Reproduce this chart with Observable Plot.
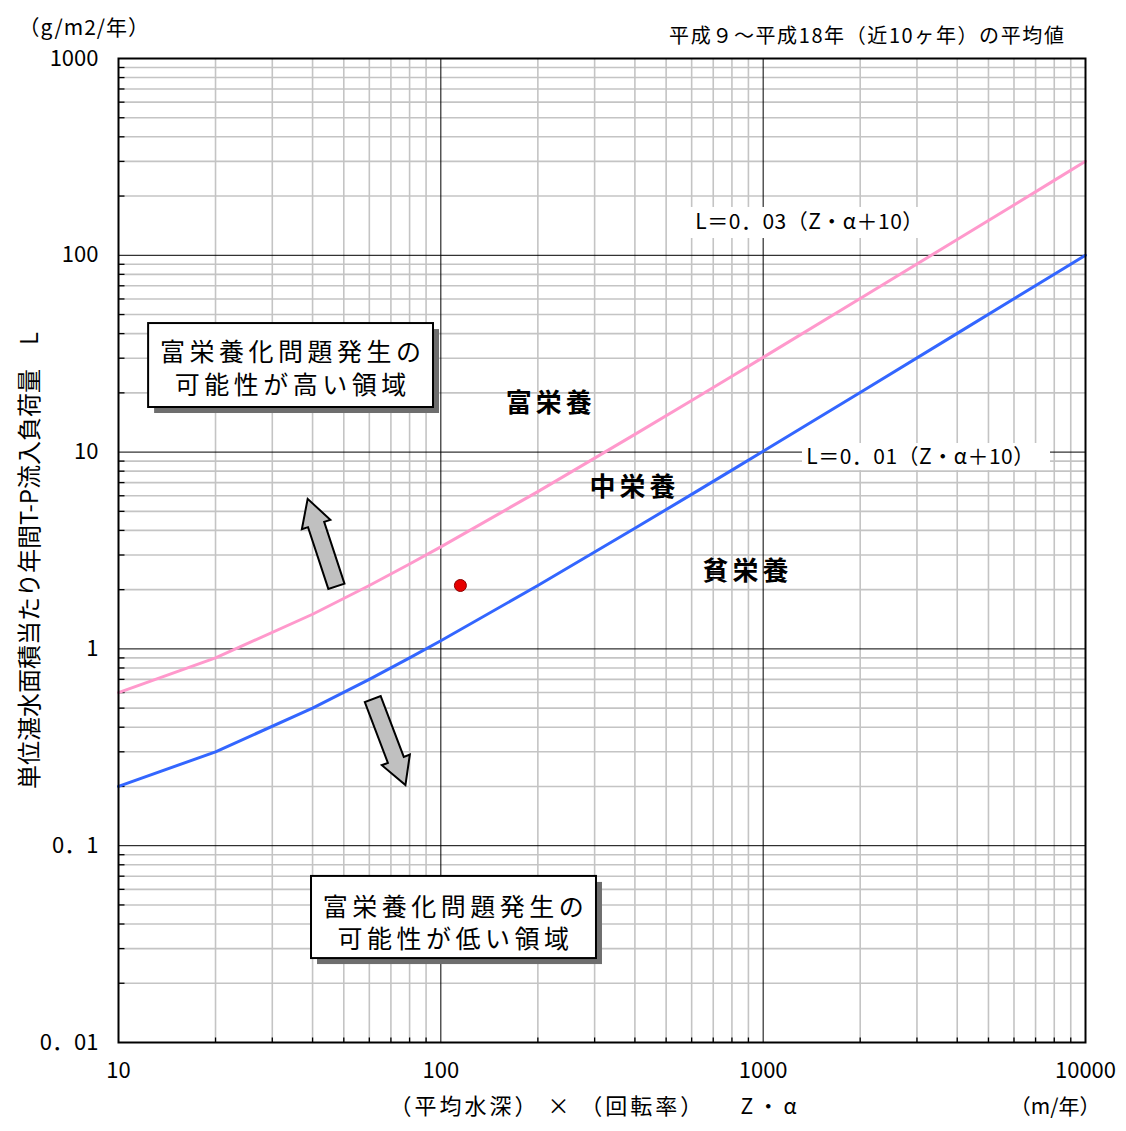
<!DOCTYPE html>
<html><head><meta charset="utf-8">
<script src="https://cdn.jsdelivr.net/npm/d3@7"></script>
<script src="https://cdn.jsdelivr.net/npm/@observablehq/plot@0.6"></script>
<style>
body{margin:0;background:#fff;}
#chart svg{display:block;}
</style></head><body><div id="chart"></div>
<script>
// ---- data ----
const zAlpha = [10,20,40,60,80,100,200,400,600,800,1000,2000,4000,6000,8000,10000];
const upperL = [0.6,0.9,1.5,2.1,2.7,3.3,6.3,12.3,18.3,24.3,30.3,60.3,120.3,180.3,240.3,300.3];
const lowerL = [0.2,0.3,0.5,0.7,0.9,1.1,2.1,4.1,6.1,8.1,10.1,20.1,40.1,60.1,80.1,100.1];
const observedZ = [115];
const observedL = [2.1];
const xTicks = [10,100,1000,10000];
const xTickLabels = ["10","100","1000","10000"];
const yTicks = [0.01,0.1,1,10,100,1000];
const yTickLabels = ["0．01","0．1","1","10","100","1000"];
const lineLabels = ["L＝0．03（Z・α＋10）","L＝0．01（Z・α＋10）"];
const regionNames = ["富栄養","中栄養","貧栄養"];
const boxTexts = ["富栄養化問題発生の\n可能性が高い領域","富栄養化問題発生の\n可能性が低い領域"];

// ---- annotation placement (data units) ----
const regionPos = [[216,17.7],[393,6.6],[881,2.47]];
const boxPos = [[12.4,94.9,16.85,45.0,34.2,27.1],[39.7,304,0.0267,0.0698,109.5,0.0412]];
const lineLabelPos = [[595,3188,121.7,175,1393,146.8],[1324,7789,8.06,11.06,3076,9.39]];
const arrowPos = [[42.8,3.47,-108.2],[69.1,0.336,69.2]];

// minor grid values
const decades = [0.01,0.1,1,10,100,1000];
const minorY = decades.slice(0,-1).flatMap(d => d3.range(2,10).map(k => +(k*d).toPrecision(3)));
const minorX = [10,100,1000].flatMap(d => d3.range(2,10).map(k => k*d));

const font = "'Noto Sans CJK JP', 'Noto Sans', sans-serif";

function blockArrow(angleDeg){
  const a = angleDeg*Math.PI/180, c = Math.cos(a), s = Math.sin(a);
  const L = 92, hw = 8.5, HW = 15, HL = 27;
  const pts = [[-L/2,-hw],[L/2-HL,-hw],[L/2-HL,-HW],[L/2,0],[L/2-HL,HW],[L/2-HL,hw],[-L/2,hw]];
  return {draw(ctx){ pts.forEach(([x,y],i)=>{const X=x*c-y*s, Y=x*s+y*c; i?ctx.lineTo(X,Y):ctx.moveTo(X,Y);}); ctx.closePath(); }};
}
const leftTick = {draw(ctx){ctx.moveTo(0,0); ctx.lineTo(6,0);}};
const bottomTick = {draw(ctx){ctx.moveTo(0,0); ctx.lineTo(0,-5);}};

const upper = zAlpha.map((z,i)=>({z, L: upperL[i]}));
const lower = zAlpha.map((z,i)=>({z, L: lowerL[i]}));
const observed = observedZ.map((z,i)=>({z, L: observedL[i]}));
const boxes = boxPos.map((p,i)=>({x1:p[0],x2:p[1],y1:p[2],y2:p[3],tx:p[4],ty:p[5],text:boxTexts[i]}));
const lblBoxes = lineLabelPos.map((p,i)=>({x1:p[0],x2:p[1],y1:p[2],y2:p[3],tx:p[4],ty:p[5],text:lineLabels[i]}));
const regions = regionPos.map((p,i)=>({x:p[0],y:p[1],text:regionNames[i]}));

const titleTL = "（g/m2/年）";
const titleTR = "平成９～平成18年（近10ヶ年）の平均値";
const yTitle = "単位湛水面積当たり年間T-P流入負荷量　L";
const xTitle1 = "（平均水深） × （回転率）";
const xTitle2 = "Z ・ α";
const xUnit = "（m/年）";

const plot = Plot.plot({
  width: 1126, height: 1131,
  marginTop: 58, marginRight: 41, marginBottom: 89, marginLeft: 118,
  x: {type: "log", domain: [10,10000], axis: null},
  y: {type: "log", domain: [0.01,1000], axis: null},
  style: {fontFamily: font, background: "white", color: "black"},
  marks: [
    Plot.ruleX(minorX, {stroke: "#c4c4c4", strokeWidth: 1.6}),
    Plot.ruleY(minorY, {stroke: "#c4c4c4", strokeWidth: 1.6}),
    Plot.ruleX([100,1000], {stroke: "#000", strokeWidth: 1}),
    Plot.ruleY([0.1,1,10,100], {stroke: "#000", strokeWidth: 1}),
    Plot.dot(minorY, {x: () => 10, y: d => d, symbol: leftTick, stroke: "#000", fill: "none", strokeWidth: 1.3}),
    Plot.dot(minorX, {x: d => d, y: () => 0.01, symbol: bottomTick, stroke: "#000", fill: "none", strokeWidth: 1.3}),
    // line label backgrounds
    Plot.rect(lblBoxes, {x1:"x1", x2:"x2", y1:"y1", y2:"y2", fill: "white"}),
    Plot.line(upper, {x: "z", y: "L", stroke: "#ff99cc", strokeWidth: 3}),
    Plot.line(lower, {x: "z", y: "L", stroke: "#3366ff", strokeWidth: 3}),
    Plot.text(lblBoxes, {x:"tx", y:"ty", text:"text", fontSize: 21, fill: "#000"}),
    // boxes with shadow
    Plot.rect(boxes, {x1:"x1", x2:"x2", y1:"y1", y2:"y2", fill: "#6e6e6e", dx: 6, dy: 6}),
    Plot.rect(boxes, {x1:"x1", x2:"x2", y1:"y1", y2:"y2", fill: "white", stroke: "#000", strokeWidth: 2}),
    Plot.text(boxes, {x:"tx", y:"ty", text:"text", fontSize: 25, lineHeight: 1.3, fill: "#000", dx: 2}),
    // region labels
    Plot.text(regions, {x:"x", y:"y", text:"text", fontSize: 26, fontWeight: "bold", fill: "#000", dx: 2}),
    // arrows
    ...arrowPos.map(p => Plot.dot([p], {x: d => d[0], y: d => d[1], symbol: blockArrow(p[2]), fill: "#c0c0c0", stroke: "#000", strokeWidth: 2})),
    // observed point
    Plot.dot(observed, {x:"z", y:"L", r: 6, fill: "#e60000", stroke: "#8b0000", strokeWidth: 1}),
    Plot.frame({stroke: "#000", strokeWidth: 2}),
    // tick labels
    Plot.text(yTicks, {y: d => d, text: (d,i) => yTickLabels[i], frameAnchor: "left", dx: -20, textAnchor: "end", fontSize: 22}),
    Plot.text(xTicks, {x: d => d, text: (d,i) => xTickLabels[i], frameAnchor: "bottom", dy: 35, fontSize: 22}),
    // titles
    Plot.text([titleTL], {frameAnchor: "top-left", dx: -100, dy: -38, textAnchor: "start", fontSize: 21}),
    Plot.text([titleTR], {frameAnchor: "top-right", dx: -20, dy: -30, textAnchor: "end", fontSize: 20}),
    Plot.text([yTitle], {frameAnchor: "left", dx: -88, dy: 10, rotate: -90, textAnchor: "middle", fontSize: 24}),
    Plot.text([xTitle1], {frameAnchor: "bottom-left", dx: 271, dy: 71, textAnchor: "start", fontSize: 22}),
    Plot.text([xTitle2], {frameAnchor: "bottom-left", dx: 622, dy: 71, textAnchor: "start", fontSize: 21}),
    Plot.text([xUnit], {frameAnchor: "bottom-right", dx: 15, dy: 71, textAnchor: "end", fontSize: 21})
  ]
});

// letter spacing tweaks to mimic the original font metrics
const spacing = new Map([
  ...regionNames.map(t => [t, "4px"]),
  ...boxTexts.map(t => [t.replace("\n",""), "4.5px"]),
  [titleTR, "1.6px"], [titleTL, "1px"], [lineLabels[0], "0.5px"], [lineLabels[1], "0.5px"],
  [xTitle1, "3px"]
]);
d3.select(plot).selectAll("text").each(function(){
  const s = spacing.get(this.textContent);
  if (s) this.style.letterSpacing = s;
});
document.getElementById("chart").appendChild(plot);
</script>
</body></html>
